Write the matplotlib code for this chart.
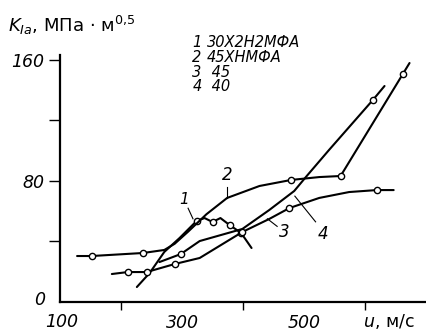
import numpy as np
import matplotlib.pyplot as plt

# curve 1 - 30X2H2MФA
u1 = [226, 247, 271, 296, 324, 337, 350, 363, 378, 397, 414]
k1 = [9.9, 19.2, 33.1, 42.3, 53.6, 55.5, 52.9, 55.5, 50.9, 45.6, 35.7]
m1 = [4, 6, 8, 9]

# curve 2 - 45XHMФA
u2 = [128, 152, 236, 271, 288, 310, 340, 374, 427, 479, 525, 560, 662, 673]
k2 = [30.4, 30.4, 32.4, 34.4, 38.5, 46.5, 58.0, 68.8, 76.7, 80.7, 82.6, 83.3, 150.7, 158.0]
m2 = [1, 2, 9, 11, 12]

# curve 3 - 45
u3 = [185, 211, 242, 288, 329, 399, 443, 476, 525, 574, 619, 647]
k3 = [18.5, 19.8, 19.8, 25.1, 29.1, 46.3, 54.9, 62.1, 68.8, 72.7, 74.0, 74.0]
m3 = [1, 2, 3, 5, 7, 10]

# curve 4 - 40
u4 = [263, 298, 329, 399, 443, 484, 503, 541, 613, 632]
k4 = [26.4, 31.7, 40.3, 48.3, 60.8, 73.4, 82.6, 100.5, 133.6, 142.8]
m4 = [1, 8]

legend_nums = ['1', '2', '3', '4']
legend_names = ['30Х2Н2МФА', '45ХНМФА', ' 45', ' 40']

fig = plt.figure(figsize=(4.26, 3.36), dpi=100)
ax = fig.add_axes([60/426, 34/336, 366/426, 247/336])

for u, k, m in [(u1, k1, m1), (u2, k2, m2), (u3, k3, m3), (u4, k4, m4)]:
    u = np.array(u); k = np.array(k)
    ax.plot(u, k, color='black', lw=1.5, solid_capstyle='round', solid_joinstyle='round')
    ax.plot(u[m], k[m], 'o', ms=4.5, mfc='white', mec='black', mew=1.0)

ax.set_xlim(100, 700)
ax.set_ylim(0, 163.3)
for s in ['top', 'right']:
    ax.spines[s].set_visible(False)
for s in ['left', 'bottom']:
    ax.spines[s].set_linewidth(1.6)

ax.set_xticks([300, 500])
ax.set_xticks([200, 400, 600], minor=True)
ax.set_yticks([80, 160])
ax.set_yticks([40, 120], minor=True)
ax.tick_params(axis='x', which='major', length=0, pad=9)
ax.tick_params(axis='x', which='minor', direction='out', length=6, width=1.0)
ax.tick_params(axis='y', which='both', direction='out', length=8, width=1.0, pad=3.5)
ax.set_xticklabels(['300', '500'])
ax.set_yticklabels(['80', '160'])
for lbl in ax.get_xticklabels() + ax.get_yticklabels():
    lbl.set_fontsize(12.5)
    lbl.set_style('italic')

# labels at the corner
ax.text(103, -7.5, '100', ha='center', va='top', fontsize=12.5, style='italic', clip_on=False)
ax.text(75, 1.5, '0', ha='right', va='center', fontsize=12.5, style='italic', clip_on=False)

# legend block
for i in range(4):
    ax.text(317, 171.4 - i*9.7, legend_nums[i], fontsize=10.5, style='italic', va='center')
    ax.text(341, 171.4 - i*9.7, legend_names[i], fontsize=10.5, style='italic', va='center')

# curve numbers with leader lines
ax.text(304, 63, '1', fontsize=11, style='italic', ha='center', va='bottom')
ax.plot([310, 318], [62, 55], color='black', lw=0.8)
ax.text(375, 78, '2', fontsize=12, style='italic', ha='center', va='bottom')
ax.plot([374, 374], [76, 69], color='black', lw=0.8)
ax.text(468, 46, '3', fontsize=12, style='italic', ha='center', va='center')
ax.plot([456, 440], [50, 55], color='black', lw=0.8)
ax.text(531, 45, '4', fontsize=12, style='italic', ha='center', va='center')
ax.plot([519, 485], [53, 70], color='black', lw=0.8)

fig.text(8/426, 1 - 32/336, r'$K_{Ia}$, МПа $\cdot$ м$^{0{,}5}$', fontsize=13)
fig.text(363/426, 1 - 327/336, r'$u$, м/с', fontsize=12.5)

fig.savefig('out.png', dpi=100)
